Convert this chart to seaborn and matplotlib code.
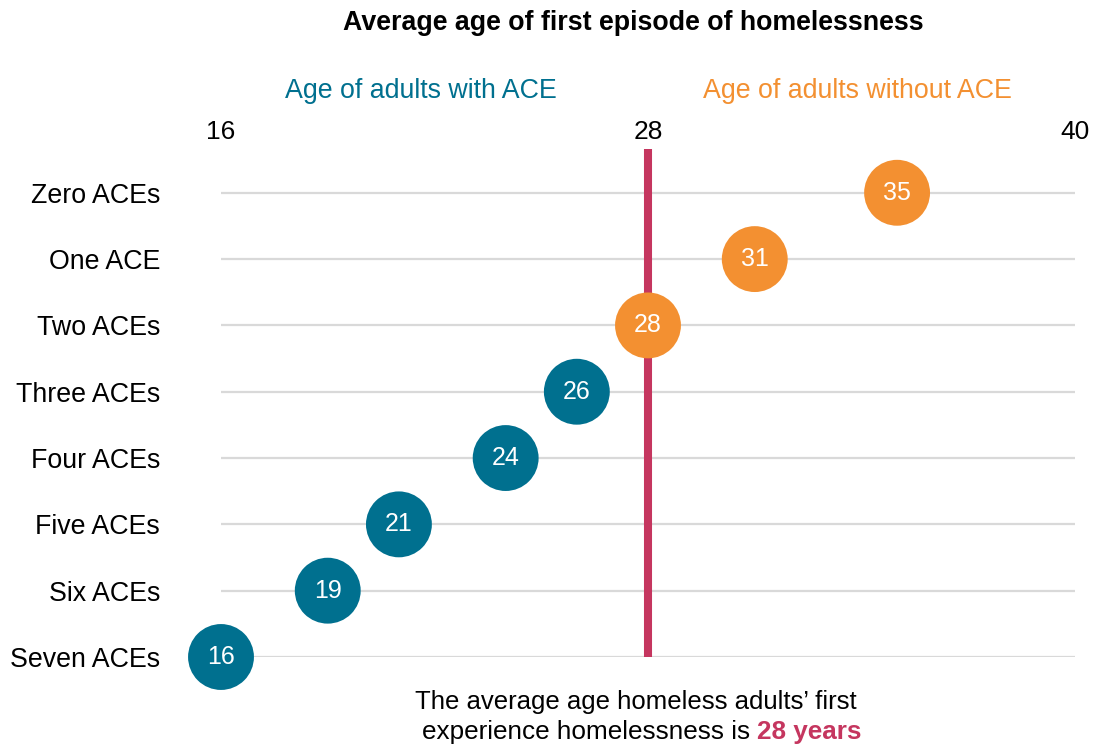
import pandas as pd
import seaborn as sns
import matplotlib.pyplot as plt

categories = ['Zero ACEs', 'One ACE', 'Two ACEs', 'Three ACEs', 'Four ACEs',
              'Five ACEs', 'Six ACEs', 'Seven ACEs']
ages = [35, 31, 28, 26, 24, 21, 19, 16]
groups = ['without', 'without', 'without', 'with', 'with', 'with', 'with', 'with']
average_age = 28
x_ticks = [16, 28, 40]

teal = '#00708F'
orange = '#F39031'
crimson = '#C5365F'

sns.set_style('white')
plt.rcParams['font.family'] = ['Liberation Sans', 'DejaVu Sans']
plt.rcParams['text.color'] = 'black'
plt.rcParams['xtick.color'] = 'black'
plt.rcParams['ytick.color'] = 'black'

df = pd.DataFrame({'Category': categories, 'Age': ages, 'Group': groups})

fig = plt.figure(figsize=(10.94, 7.46), dpi=100)
ax = fig.add_axes([221 / 1094, 89 / 746, (1075 - 221) / 1094, (657 - 149) / 746])

# light grey row lines
for i in range(len(categories)):
    ax.axhline(i, color='#D9D9D9', lw=1.6, zorder=0)

ax.axvline(average_age, color=crimson, lw=5.8, zorder=1)

sns.scatterplot(data=df, x='Age', y='Category', hue='Group',
                palette={'with': teal, 'without': orange},
                s=2250, edgecolor='none', legend=False, ax=ax, zorder=3, clip_on=False)

for i, a in enumerate(ages):
    ax.text(a, i, str(a), color='white', fontsize=18, ha='center', va='center', zorder=4)

ax.set_xlim(16, 40)
ax.set_ylim(len(categories) - 1, -0.66)
ax.set_xticks(x_ticks)
ax.xaxis.tick_top()
ax.tick_params(axis='x', length=0, pad=3.5, labelsize=19)
ax.tick_params(axis='y', length=0, pad=44, labelsize=19.3)
ax.set_xlabel('')
ax.set_ylabel('')
sns.despine(ax=ax, left=True, bottom=True)
ax.spines['top'].set_visible(False)

fig.text(633 / 1094, 1 - 23 / 746, 'Average age of first episode of homelessness',
         fontsize=19.3, fontweight='bold', ha='center', va='center')
fig.text(421 / 1094, 1 - 91 / 746, 'Age of adults with ACE', color=teal,
         fontsize=19.3, ha='center', va='center')
fig.text(857 / 1094, 1 - 91 / 746, 'Age of adults without ACE', color=orange,
         fontsize=19.3, ha='center', va='center')

fig.text(636 / 1094, 1 - 702 / 746, 'The average age homeless adults\u2019 first',
         fontsize=18.5, ha='center', va='center')
t1 = fig.text(0, 1 - 732 / 746, 'experience homelessness is ',
              fontsize=18.8, ha='left', va='center')
t2 = fig.text(0, 1 - 732 / 746, '28 years', color=crimson,
              fontsize=18.8, fontweight='bold', ha='left', va='center')
fig.canvas.draw()
w1 = t1.get_window_extent().width
w2 = t2.get_window_extent().width
x0 = 642 - (w1 + w2) / 2
t1.set_x(x0 / 1094)
t2.set_x((x0 + w1) / 1094)

fig.savefig('out.png', dpi=100)
